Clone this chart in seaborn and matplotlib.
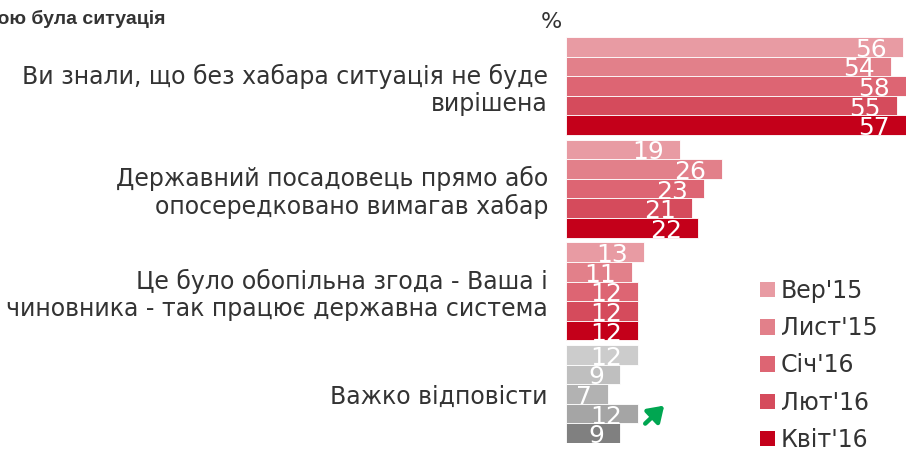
import matplotlib
matplotlib.use("Agg")
import matplotlib.pyplot as plt
import matplotlib.transforms as mtransforms
from matplotlib.patches import Patch
import seaborn as sns
import pandas as pd

categories = [
    "Ви знали, що без хабара ситуація не буде\nвирішена",
    "Державний посадовець прямо або\nопосередковано вимагав хабар",
    "Це було обопільна згода - Ваша і\nчиновника - так працює державна система",
    "Важко відповісти",
]
waves = ["Вер'15", "Лист'15", "Січ'16", "Лют'16", "Квіт'16"]
values = {
    "Вер'15": [56, 19, 13, 12],
    "Лист'15": [54, 26, 11, 9],
    "Січ'16": [58, 23, 12, 7],
    "Лют'16": [55, 21, 12, 12],
    "Квіт'16": [57, 22, 12, 9],
}
red_colors = ["#E89BA3", "#E2808A", "#DD6573", "#D54B5C", "#C4001A"]
gray_colors = ["#CCCCCC", "#BFBFBF", "#B2B2B2", "#A5A5A5", "#808080"]

rows = []
for w in waves:
    for c, v in zip(categories, values[w]):
        rows.append({"cat": c, "wave": w, "val": v})
df = pd.DataFrame(rows)

sns.set_theme(style="white")
plt.rcParams["font.family"] = ["DejaVu Sans"]

fig = plt.figure(figsize=(9.06, 4.51), dpi=100)
ax = fig.add_axes([566 / 906, 1 - 443 / 451, 1 - 566 / 906, (443 - 37) / 451])

W = 0.955
XMAX = 56.5
sns.barplot(data=df, y="cat", x="val", hue="wave", order=categories,
            hue_order=waves, palette=red_colors, saturation=1, width=W, gap=0,
            orient="h", ax=ax, legend=False, edgecolor="white", linewidth=0.6)

for h, cont in enumerate(ax.containers):
    cont[3].set_facecolor(gray_colors[h])

ax.set_xlim(0, XMAX)
ax.set_ylim(3 + W / 2, -W / 2)
for s in ax.spines.values():
    s.set_visible(False)
ax.set_xticks([])
ax.set_xlabel("")
ax.set_ylabel("")
ax.tick_params(axis="y", length=0, pad=13)
ax.set_yticks(range(len(categories)))
ax.set_yticklabels(categories, fontsize=17, color="#333333", ha="right",
                   linespacing=1.15)

# value labels
for h, cont in enumerate(ax.containers):
    for i, bar in enumerate(cont):
        v = values[waves[h]][i]
        yc = bar.get_y() + bar.get_height() / 2
        ax.annotate(str(v), xy=(min(v, XMAX), yc), xytext=(-16, -3),
                    textcoords="offset pixels", ha="right", va="center",
                    fontsize=18, color="white", annotation_clip=False)

# green arrow (up-right) next to Лют'16 in last group
bar = ax.containers[3][3]
yc = bar.get_y() + bar.get_height() / 2
xv = bar.get_width()
tail_tr = mtransforms.offset_copy(ax.transData, fig=fig, x=7, y=-10, units="dots")
head_tr = mtransforms.offset_copy(ax.transData, fig=fig, x=26, y=8, units="dots")
ax.annotate("", xy=(xv, yc), xycoords=head_tr, xytext=(xv, yc), textcoords=tail_tr,
            annotation_clip=False,
            arrowprops=dict(arrowstyle="-|>,head_length=0.45,head_width=0.3",
                            color="#00A651", lw=3.2, mutation_scale=20,
                            shrinkA=0, shrinkB=0))

# legend
handles = [Patch(facecolor=c, edgecolor="none") for c in red_colors]
fig.legend(handles, waves, loc="upper left", bbox_to_anchor=(760 / 906, 1 - 279 / 451),
           frameon=False, fontsize=17, handlelength=0.62, handleheight=0.62,
           handletextpad=0.25, labelspacing=0.56, labelcolor="#333333",
           borderaxespad=0, borderpad=0)

# title and %
fig.text(166 / 906, 1 - 19 / 451, "Якою була ситуація", ha="right", va="center",
         fontsize=14, fontweight="bold", color="#333333",
         family=["Liberation Sans Narrow", "Liberation Sans", "DejaVu Sans"])
fig.text(551 / 906, 1 - 22 / 451, "%", ha="center", va="center",
         fontsize=16, color="#333333")

fig.savefig("out.png", dpi=100)
